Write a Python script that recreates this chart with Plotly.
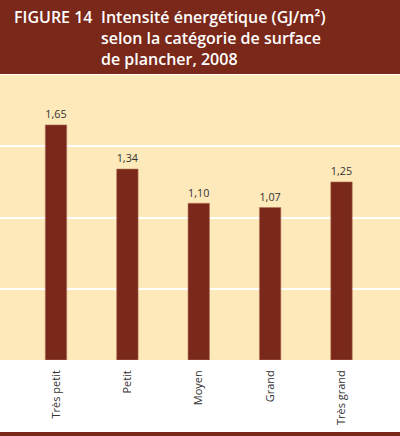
import plotly.graph_objects as go

# data
categories = ["Très petit", "Petit", "Moyen", "Grand", "Très grand"]
intensity = [1.65, 1.34, 1.10, 1.07, 1.25]

title_tag = "FIGURE 14"
title_lines = ["Intensité énergétique (GJ/m²)", "selon la catégorie de surface", "de plancher, 2008"]

BROWN = "#7A2819"
BEIGE = "#FDE9BA"
FONT = "Open Sans"

W, H = 400, 436
TOP, BOTTOM = 75, 360  # plot area in px
span = BOTTOM - TOP


def py(px):
    # pixel row -> paper y
    return (BOTTOM - px) / span


fig = go.Figure()
fig.add_trace(go.Bar(
    x=list(range(len(categories))), y=intensity,
    width=0.30,
    marker=dict(color=BROWN, line=dict(color="#B5735A", width=0.6)),
    texttemplate="%{y:.2f}", textposition="outside",
    textfont=dict(family=FONT, size=12, color="#333333"),
    cliponaxis=False,
))

# header band and bottom rule
fig.add_shape(type="rect", xref="paper", yref="paper", x0=0, x1=1, y0=py(74), y1=py(0),
              fillcolor=BROWN, line_width=0, layer="above")
fig.add_shape(type="rect", xref="paper", yref="paper", x0=0, x1=1, y0=py(436), y1=py(432),
              fillcolor=BROWN, line_width=0)

fig.add_annotation(text=title_tag, xref="paper", yref="paper", x=12 / W, y=py(4),
                   xanchor="left", yanchor="top", showarrow=False, align="left",
                   font=dict(family=FONT, size=16, color="white", weight=600))
fig.add_annotation(text="<br>".join(title_lines), xref="paper", yref="paper", x=99 / W, y=py(4),
                   xanchor="left", yanchor="top", showarrow=False, align="left",
                   font=dict(family=FONT, size=16, color="white", weight=600))

fig.update_xaxes(range=[-56 / 71.375, (W - 56) / 71.375], tickmode="array",
                 tickvals=list(range(len(categories))), ticktext=categories,
                 tickangle=-90, tickfont=dict(family=FONT, size=11, color="#333333"),
                 ticks="", ticklabelstandoff=7, showgrid=False, zeroline=False, showline=False)
fig.update_yaxes(range=[0, 2], dtick=0.5, showgrid=True, gridcolor="white", gridwidth=1.5,
                 showticklabels=False, zeroline=False, showline=False)

fig.update_layout(
    width=W, height=H,
    margin=dict(l=0, r=0, t=TOP, b=H - BOTTOM, pad=0),
    paper_bgcolor="white", plot_bgcolor=BEIGE,
    separators=", ",
    showlegend=False,
    font=dict(family=FONT),
)

# the page body has a default 8px margin; drop it so the figure fills the window
fig.write_html("out.html", config={"displayModeBar": False},
               post_script="document.body.style.margin='0';")
